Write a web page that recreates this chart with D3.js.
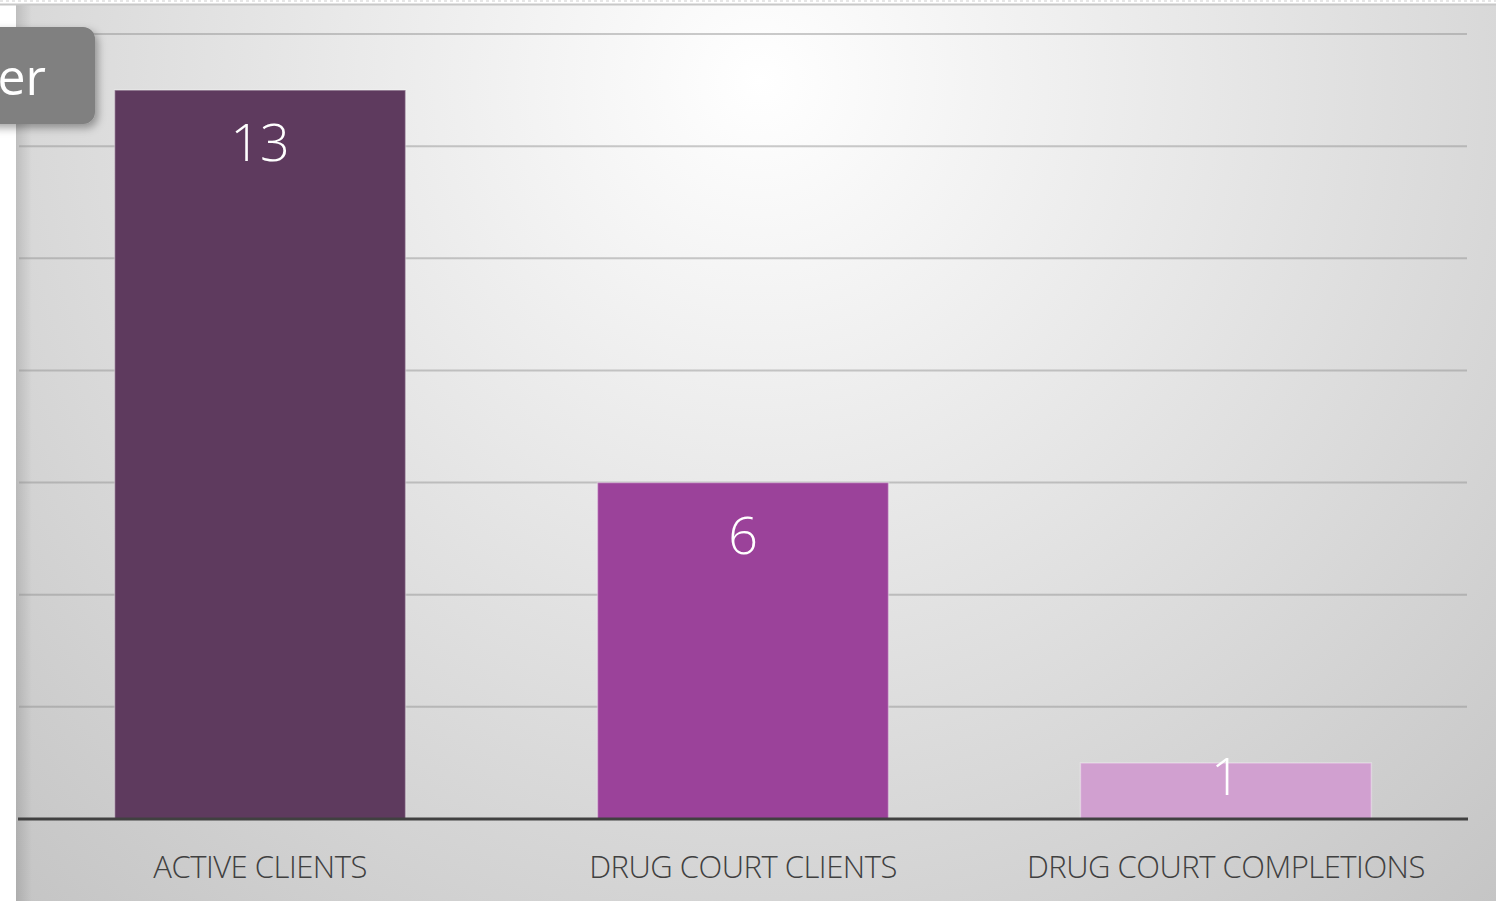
<!DOCTYPE html>
<html>
<head>
<meta charset="UTF-8">
<title></title>
<style>
  body { margin: 0; background: #fff; overflow: hidden; }
  svg { display: block; }
</style>
</head>
<body>
<script src="https://cdn.jsdelivr.net/npm/d3@7/dist/d3.min.js"></script>
<script>
var categories = ["ACTIVE CLIENTS", "DRUG COURT CLIENTS", "DRUG COURT COMPLETIONS"];
var values = [13, 6, 1];
var colors = ["#5e3a5e", "#9b429a", "#d1a0d0"];
var yTicks = [0, 2, 4, 6, 8, 10, 12, 14];

var W = 1496, H = 901;
var svg = d3.select("body").append("svg")
  .attr("width", W)
  .attr("height", H);

var defs = svg.append("defs");
var bg = defs.append("radialGradient")
  .attr("id", "bg")
  .attr("gradientUnits", "userSpaceOnUse")
  .attr("cx", 760).attr("cy", 80).attr("r", 1200);
bg.append("stop").attr("offset", "0%").attr("stop-color", "#ffffff");
bg.append("stop").attr("offset", "100%").attr("stop-color", "#c0c0c0");

var edge = defs.append("linearGradient").attr("id", "edge");
edge.append("stop").attr("offset", "0%").attr("stop-color", "#000").attr("stop-opacity", 0.12);
edge.append("stop").attr("offset", "100%").attr("stop-color", "#000").attr("stop-opacity", 0);

var shadow = defs.append("filter").attr("id", "shadow")
  .attr("x", "-20%").attr("y", "-20%").attr("width", "150%").attr("height", "150%");
shadow.append("feDropShadow")
  .attr("dx", 3).attr("dy", 4).attr("stdDeviation", 4)
  .attr("flood-color", "#000").attr("flood-opacity", 0.35);

// panel
svg.append("rect").attr("x", 16).attr("y", 5).attr("width", W - 16).attr("height", H - 5)
  .attr("fill", "url(#bg)");
svg.append("rect").attr("x", 16).attr("y", 5).attr("width", 16).attr("height", H - 5)
  .attr("fill", "url(#edge)");
svg.append("line").attr("x1", 0).attr("x2", W).attr("y1", 4.5).attr("y2", 4.5)
  .attr("stroke", "#c8c8c8").attr("stroke-width", 2);
svg.append("line").attr("x1", 0).attr("x2", W).attr("y1", 1).attr("y2", 1)
  .attr("stroke", "#e6e6e6").attr("stroke-width", 2).attr("stroke-dasharray", "3,3");

var x = d3.scaleBand()
  .domain(categories)
  .range([19, 1467])
  .paddingInner(0.3975)
  .paddingOuter(0.198);

var y = d3.scaleLinear()
  .domain([0, 14])
  .range([819, 34]);

// gridlines
svg.append("g")
  .selectAll("line")
  .data(yTicks.slice(1))
  .enter().append("line")
  .attr("x1", 19).attr("x2", 1467)
  .attr("y1", function(d) { return y(d); })
  .attr("y2", function(d) { return y(d); })
  .attr("stroke", "#8c8c8c")
  .attr("stroke-opacity", 0.45)
  .attr("stroke-width", 2);

// bars
svg.append("g")
  .selectAll("rect")
  .data(values)
  .enter().append("rect")
  .attr("x", function(d, i) { return x(categories[i]); })
  .attr("y", function(d) { return y(d); })
  .attr("width", x.bandwidth())
  .attr("height", function(d) { return y(0) - y(d); })
  .attr("fill", function(d, i) { return colors[i]; })
  .attr("stroke", "#ffffff")
  .attr("stroke-opacity", 0.35)
  .attr("stroke-width", 1.5);

// baseline
svg.append("line")
  .attr("x1", 18).attr("x2", 1468)
  .attr("y1", y(0)).attr("y2", y(0))
  .attr("stroke", "#404040").attr("stroke-width", 3);

// data labels
svg.append("g")
  .selectAll("text")
  .data(values)
  .enter().append("text")
  .attr("x", function(d, i) { return x(categories[i]) + x.bandwidth() / 2; })
  .attr("y", function(d) { return Math.min(y(d) + 71, y(0) - 24); })
  .attr("text-anchor", "middle")
  .attr("fill", "#ffffff")
  .style("font-family", "'Open Sans', 'Noto Sans', sans-serif")
  .style("font-weight", 300)
  .style("font-size", "52px")
  .text(function(d) { return d; });

// category labels
svg.append("g")
  .selectAll("text")
  .data(categories)
  .enter().append("text")
  .attr("x", function(d) { return x(d) + x.bandwidth() / 2; })
  .attr("y", 878)
  .attr("text-anchor", "middle")
  .attr("fill", "#404040")
  .style("font-family", "'Open Sans', 'Noto Sans', sans-serif")
  .style("font-weight", 300)
  .style("font-size", "31px")
  .style("letter-spacing", "-0.5px")
  .text(function(d) { return d; });

// title tab (cut off at left, as in the original slide)
svg.append("rect")
  .attr("x", -20).attr("y", 27).attr("width", 115).attr("height", 97)
  .attr("rx", 12).attr("ry", 12)
  .attr("fill", "#808080")
  .attr("filter", "url(#shadow)");
svg.append("text")
  .attr("x", 46).attr("y", 95)
  .attr("text-anchor", "end")
  .attr("fill", "#ffffff")
  .style("font-family", "'Open Sans', 'Noto Sans', sans-serif")
  .style("font-size", "50px")
  .text("er");
</script>
</body>
</html>
